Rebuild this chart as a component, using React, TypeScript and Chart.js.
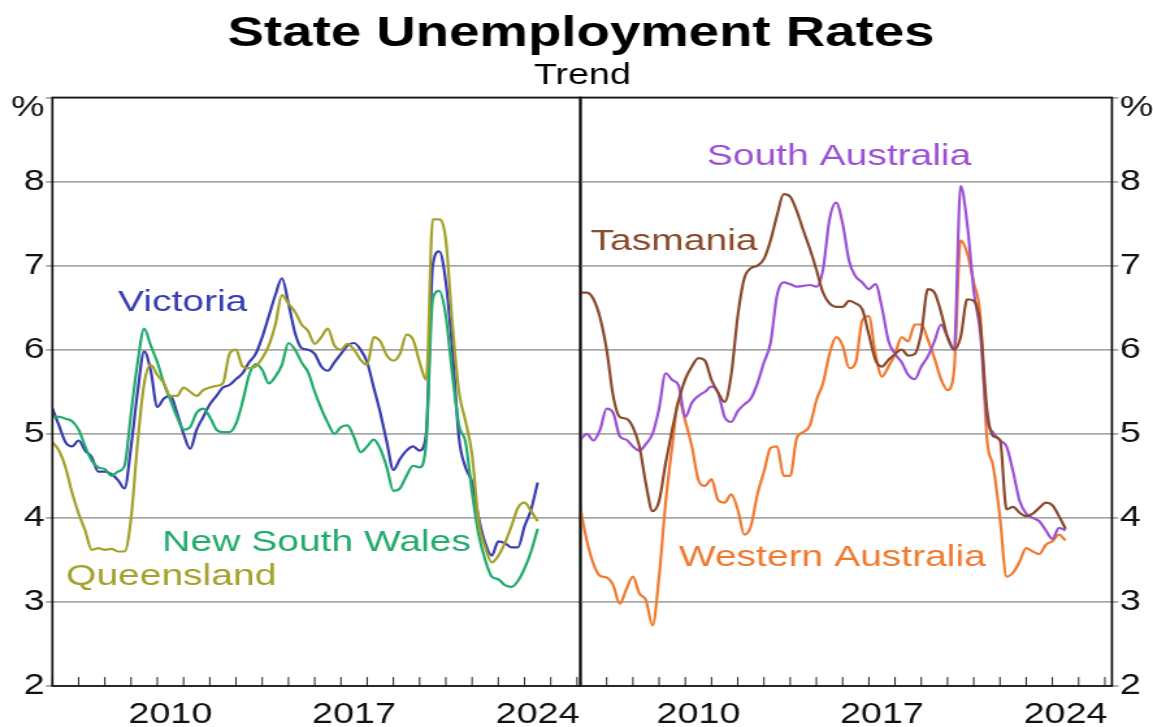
import { useEffect, useRef } from "react";
import { Chart, registerables } from "chart.js";
Chart.register(...registerables);

// ---- data ----
const quarters: number[] = Array.from({ length: 75 }, (_, i) => 2006 + i * 0.25);

const victoria = [
  5.3, 5.1, 4.9, 4.85, 4.92, 4.8, 4.72, 4.55, 4.55, 4.52, 4.45, 4.35,
  4.85, 5.5, 5.98, 5.75, 5.32, 5.42, 5.45, 5.25, 5.0, 4.82, 5.05, 5.2,
  5.35, 5.45, 5.55, 5.58, 5.65, 5.72, 5.85, 5.95, 6.15, 6.4, 6.65, 6.85,
  6.55, 6.2, 6.02, 6.0, 5.95, 5.8, 5.75, 5.85, 5.95, 6.05, 6.08, 6.0,
  5.85, 5.55, 5.25, 4.9, 4.57, 4.7, 4.8, 4.85, 4.8, 5.0, 7.0, 7.17,
  6.8, 6.0, 4.95, 4.6, 4.42, 4.0, 3.7, 3.55, 3.72, 3.7, 3.65, 3.65,
  3.9, 4.1, 4.42,
];
const queensland = [
  4.9, 4.8, 4.6, 4.3, 4.05, 3.85, 3.62, 3.64, 3.62, 3.63, 3.6, 3.6,
  4.0, 4.9, 5.6, 5.82, 5.7, 5.6, 5.45, 5.45, 5.55, 5.5, 5.45, 5.52,
  5.55, 5.57, 5.6, 5.95, 6.0, 5.8, 5.78, 5.8, 5.9, 6.05, 6.3, 6.65,
  6.55, 6.45, 6.3, 6.22, 6.07, 6.15, 6.25, 6.05, 6.0, 6.07, 6.0, 5.88,
  5.82, 6.15, 6.1, 5.93, 5.87, 5.95, 6.18, 6.12, 5.85, 5.64, 7.55, 7.55,
  7.3, 6.3, 5.5, 5.15, 4.75, 3.95, 3.65, 3.47, 3.55, 3.7, 3.9, 4.12,
  4.18, 4.08, 3.96,
];
const newSouthWales = [
  5.2, 5.2, 5.18, 5.15, 5.05, 4.85, 4.68, 4.6, 4.58, 4.5, 4.55, 4.62,
  5.25, 5.85, 6.25, 6.05, 5.85, 5.6, 5.4, 5.2, 5.05, 5.08, 5.25, 5.3,
  5.2, 5.05, 5.02, 5.02, 5.12, 5.38, 5.7, 5.83, 5.76, 5.6, 5.68, 5.82,
  6.08, 6.0, 5.85, 5.73, 5.5, 5.3, 5.13, 5.0, 5.08, 5.1, 4.96, 4.78,
  4.85, 4.93, 4.82, 4.6, 4.32, 4.35, 4.5, 4.62, 4.6, 4.9, 6.6, 6.7,
  6.4, 5.7, 5.1, 4.9, 4.3, 3.8, 3.5, 3.3, 3.27, 3.2, 3.18, 3.25,
  3.4, 3.6, 3.87,
];
const tasmania = [
  6.68, 6.68, 6.6, 6.38, 6.0, 5.45, 5.2, 5.18, 5.08, 4.85, 4.4, 4.08,
  4.2, 4.65, 5.05, 5.4, 5.65, 5.8, 5.9, 5.87, 5.64, 5.49, 5.38, 5.7,
  6.4, 6.85, 6.97, 7.0, 7.08, 7.3, 7.6, 7.85, 7.82, 7.65, 7.42, 7.2,
  6.95, 6.68, 6.55, 6.51, 6.51, 6.58, 6.55, 6.48, 6.18, 5.88, 5.8, 5.88,
  5.95, 6.0, 5.93, 5.95, 6.2, 6.72, 6.68, 6.45, 6.15, 6.0, 6.15, 6.6,
  6.58, 6.3, 5.3, 4.97, 4.93, 4.1, 4.13, 4.06, 4.02, 4.05, 4.12, 4.18,
  4.15, 4.02, 3.87,
];
const southAustralia = [
  4.93, 5.0, 4.92, 5.05, 5.3, 5.25, 4.97, 4.93, 4.85, 4.8, 4.88, 5.0,
  5.3, 5.72, 5.64, 5.57, 5.2, 5.37, 5.45, 5.5, 5.56, 5.49, 5.2, 5.14,
  5.27, 5.35, 5.42, 5.6, 5.85, 6.08, 6.65, 6.8, 6.78, 6.75, 6.76, 6.77,
  6.75, 6.95, 7.55, 7.75, 7.5, 7.05, 6.87, 6.8, 6.72, 6.78, 6.5, 6.1,
  5.95, 5.85, 5.7, 5.65, 5.8, 5.92, 6.1, 6.3, 6.15, 6.0, 7.95, 7.5,
  6.7, 6.2, 5.2, 5.01, 4.92, 4.85, 4.55, 4.2, 4.05, 4.0, 3.96, 3.85,
  3.75, 3.88, 3.85,
];
const westernAustralia = [
  4.1, 3.72, 3.45, 3.31, 3.29, 3.2, 2.98, 3.15, 3.3, 3.1, 3.02, 2.72,
  3.3, 4.18, 4.85, 5.4, 5.15, 4.85, 4.45, 4.38, 4.46, 4.21, 4.18, 4.28,
  4.1, 3.8, 3.9, 4.28, 4.55, 4.83, 4.85, 4.5, 4.5, 4.95, 5.02, 5.1,
  5.4, 5.6, 5.95, 6.15, 6.05, 5.78, 5.85, 6.35, 6.4, 5.95, 5.68, 5.8,
  5.95, 6.15, 6.1, 6.3, 6.3, 6.12, 5.9, 5.65, 5.52, 5.75, 7.3, 7.15,
  6.8, 6.4, 4.95, 4.6, 4.0, 3.3, 3.35, 3.48, 3.64, 3.6, 3.57, 3.68,
  3.72, 3.8, 3.73,
];

const xTickLabels = ["2010", "2017", "2024"];
const yTickValues = [2, 3, 4, 5, 6, 7, 8, 9];
const unitLabel = "%";

// ---- style ----
const FONT = '"Liberation Sans", Arial, Helvetica, sans-serif';
const C_VIC = "#3a3db0";
const C_QLD = "#a3a12a";
const C_NSW = "#22ab6c";
const C_TAS = "#8a4a2c";
const C_SA = "#9c52d4";
const C_WA = "#f07a30";

const LOGICAL_W = 887; // drawn narrower, shown stretched to 1153
const H = 727;

type Lbl = { text: string; year: number; value: number; color: string };
const leftLabels: Lbl[] = [
  { text: "Victoria", year: 2008.5, value: 6.56, color: C_VIC },
  { text: "New South Wales", year: 2010.19, value: 3.7, color: C_NSW },
  { text: "Queensland", year: 2006.52, value: 3.3, color: C_QLD },
];
const rightLabels: Lbl[] = [
  { text: "South Australia", year: 2010.82, value: 8.3, color: C_SA },
  { text: "Tasmania", year: 2006.39, value: 7.29, color: C_TAS },
  { text: "Western Australia", year: 2009.75, value: 3.52, color: C_WA },
];

function series(vals: number[], color: string, label: string) {
  return {
    label,
    data: vals.map((v, i) => ({ x: quarters[i], y: v })),
    borderColor: color,
    borderWidth: 2.2,
    pointRadius: 0,
    cubicInterpolationMode: "monotone" as const,
    fill: false,
  };
}

function framePlugin(labels: Lbl[], withTitle: boolean, side: "left" | "right") {
  return {
    id: "frameDecor",
    afterDraw(chart: any) {
      const { ctx, chartArea: a, scales } = chart;
      const xs = scales.x;
      const ys = scales.y;
      ctx.save();
      // year tick marks
      ctx.strokeStyle = "#222";
      ctx.lineWidth = 1;
      for (let yr = Math.ceil(xs.min); yr <= xs.max; yr++) {
        const px = xs.getPixelForValue(yr);
        ctx.beginPath();
        ctx.moveTo(px, a.bottom);
        ctx.lineTo(px, a.bottom - 9);
        ctx.stroke();
      }
      // frame
      ctx.strokeStyle = "#111";
      ctx.lineWidth = 1.7;
      ctx.strokeRect(a.left, a.top, a.right - a.left, a.bottom - a.top);
      // unit label
      ctx.fillStyle = "#111";
      ctx.font = `29px ${FONT}`;
      ctx.textBaseline = "middle";
      if (side === "left") {
        ctx.textAlign = "right";
        ctx.fillText(unitLabel, a.left - 6, ys.getPixelForValue(9) + 10);
      } else {
        ctx.textAlign = "left";
        ctx.fillText(unitLabel, a.right + 6, ys.getPixelForValue(9) + 10);
      }
      // series labels
      ctx.font = `30px ${FONT}`;
      ctx.textAlign = "left";
      ctx.textBaseline = "middle";
      for (const l of labels) {
        ctx.fillStyle = l.color;
        ctx.fillText(l.text, xs.getPixelForValue(l.year), ys.getPixelForValue(l.value));
      }
      if (withTitle) {
        ctx.fillStyle = "#000";
        ctx.textAlign = "center";
        ctx.textBaseline = "alphabetic";
        ctx.font = `bold 42px ${FONT}`;
        ctx.fillText("State Unemployment Rates", 447, 46);
        ctx.font = `29px ${FONT}`;
        ctx.fillText("Trend", 448, 84);
      }
      ctx.restore();
    },
  };
}

function makeOptions(side: "left" | "right", xMax: number) {
  const yWidth = side === "left" ? 40.3 : LOGICAL_W - 855.4;
  return {
    responsive: false,
    devicePixelRatio: 1,
    animation: false as const,
    events: [],
    layout: {
      padding:
        side === "left"
          ? { left: 0, right: LOGICAL_W - 446.5, top: 97.5, bottom: 0 }
          : { left: 446.5, right: 0, top: 97.5, bottom: 0 },
    },
    plugins: { legend: { display: false }, tooltip: { enabled: false }, title: { display: false } },
    scales: {
      x: {
        type: "linear" as const,
        min: 2006,
        max: xMax,
        afterBuildTicks: (s: any) => {
          s.ticks = xTickLabels.map((t) => ({ value: Number(t) + 0.5 }));
        },
        afterFit: (s: any) => {
          s.height = 41;
          s.paddingLeft = 0;
          s.paddingRight = 0;
        },
        ticks: {
          autoSkip: false,
          maxRotation: 0,
          padding: 12,
          color: "#111",
          font: { family: FONT, size: 29 },
          callback: (v: number) => String(Math.floor(v)),
        },
        grid: { display: false, drawTicks: false },
        border: { display: false },
      },
      y: {
        position: side,
        min: 2,
        max: 9,
        afterBuildTicks: (s: any) => {
          s.ticks = yTickValues.map((v) => ({ value: v }));
        },
        afterFit: (s: any) => {
          s.width = yWidth;
          s.paddingTop = 0;
          s.paddingBottom = 0;
        },
        ticks: {
          padding: 1,
          color: "#111",
          font: { family: FONT, size: 29 },
          callback: (v: number) => (v === 9 ? "" : String(v)),
        },
        grid: { color: "#a8a8a8", lineWidth: 1.8, tickLength: 5, drawTicks: true },
        border: { display: false },
      },
    },
  };
}

export default function App() {
  const leftRef = useRef<HTMLCanvasElement>(null);
  const rightRef = useRef<HTMLCanvasElement>(null);

  useEffect(() => {
    document.body.style.margin = "0";
    const left = new Chart(leftRef.current!, {
      type: "line",
      data: {
        datasets: [
          series(queensland, C_QLD, "Queensland"),
          series(newSouthWales, C_NSW, "New South Wales"),
          series(victoria, C_VIC, "Victoria"),
        ],
      },
      options: makeOptions("left", 2026.13) as any,
      plugins: [framePlugin(leftLabels, true, "left")],
    });
    const right = new Chart(rightRef.current!, {
      type: "line",
      data: {
        datasets: [
          series(tasmania, C_TAS, "Tasmania"),
          series(southAustralia, C_SA, "South Australia"),
          series(westernAustralia, C_WA, "Western Australia"),
        ],
      },
      options: makeOptions("right", 2026.27) as any,
      plugins: [framePlugin(rightLabels, false, "right")],
    });
    return () => {
      left.destroy();
      right.destroy();
    };
  }, []);

  const canvasStyle: React.CSSProperties = {
    position: "absolute",
    left: 0,
    top: 0,
    width: "1153px",
    height: `${H}px`,
  };

  return (
    <div style={{ position: "relative", width: 1153, height: H, background: "#fff", overflow: "hidden" }}>
      <canvas ref={leftRef} width={LOGICAL_W} height={H} style={canvasStyle} />
      <canvas ref={rightRef} width={LOGICAL_W} height={H} style={canvasStyle} />
    </div>
  );
}
